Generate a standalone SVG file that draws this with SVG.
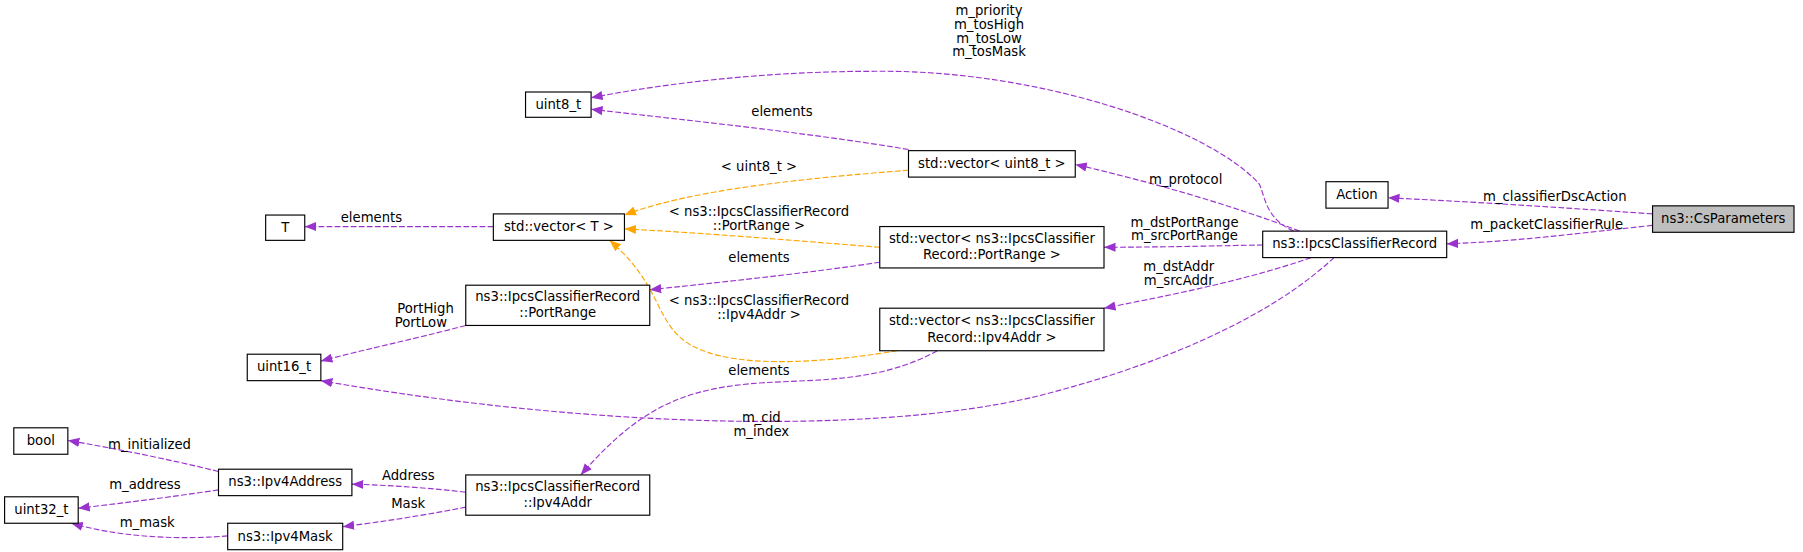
<svg xmlns="http://www.w3.org/2000/svg" width="1803" height="552" viewBox="0 0 1803 552">
<defs>
<style>
.n rect{fill:#fff;stroke:#000;stroke-width:1}
.g rect{fill:#bfbfbf}
text{font-family:"DejaVu Sans","Liberation Sans",sans-serif;font-size:11.5px;fill:#000;text-anchor:middle}
.e path{fill:none;stroke:#9a32cd;stroke-dasharray:5,2}
.e path.o{stroke:#ffa500}
</style>
<marker id="p" viewBox="0 0 10 10" refX="10" refY="5" markerWidth="10" markerHeight="10" markerUnits="userSpaceOnUse" orient="auto"><path d="M0,1L10,5L0,9z" fill="#9a32cd"/></marker>
<marker id="y" viewBox="0 0 10 10" refX="10" refY="5" markerWidth="10" markerHeight="10" markerUnits="userSpaceOnUse" orient="auto"><path d="M0,1L10,5L0,9z" fill="#ffa500"/></marker>
</defs>
<rect width="1803" height="552" fill="#fff"/>
<g transform="scale(1.15)">
<g class="e">
<path marker-end="url(#p)" d="M1437,186C1350,180 1290,176 1207,172"/>
<path marker-end="url(#p)" d="M1437,196C1370,203 1320,210 1258,212"/>
<path marker-end="url(#p)" d="M1125,201C1100,190 1100,170 1095,160C1050,110 900,60 760,62C650,62 560,76 514,85"/>
<path marker-end="url(#p)" d="M1130,201C1070,178 1000,158 935,143"/>
<path marker-end="url(#p)" d="M1098,213C1050,214 1000,215 960,215"/>
<path marker-end="url(#p)" d="M1140,224C1080,245 1010,258 960,268"/>
<path marker-end="url(#p)" d="M1160,224C1100,280 1000,320 900,345C750,380 500,370 279,331"/>
<path marker-end="url(#p)" d="M790,130C700,115 600,105 514,95"/>
<path class="o" marker-end="url(#y)" d="M790,148C700,155 600,165 543,187"/>
<path marker-end="url(#p)" d="M429,197L265,197"/>
<path class="o" marker-end="url(#y)" d="M765,215C700,210 620,203 543,199"/>
<path marker-end="url(#p)" d="M765,228C700,238 620,246 565,252"/>
<path class="o" marker-end="url(#y)" d="M780,305C740,312 680,318 640,312C560,300 590,260 530,209"/>
<path marker-end="url(#p)" d="M815,305C770,330 720,330 680,332C600,335 560,350 505,413"/>
<path marker-end="url(#p)" d="M405,283C360,295 320,303 279,314"/>
<path marker-end="url(#p)" d="M405,428C370,424 340,422 306,421"/>
<path marker-end="url(#p)" d="M405,441C370,448 330,454 298,458"/>
<path marker-end="url(#p)" d="M190,410C150,400 100,390 59,383"/>
<path marker-end="url(#p)" d="M190,426C150,432 110,437 68,442"/>
<path marker-end="url(#p)" d="M198,466C150,470 100,466 62,455"/>
</g>
<g>
<text x="1352" y="175">m_classifierDscAction</text>
<text x="1345" y="199">m_packetClassifierRule</text>
<text x="860" y="13">m_priority</text><text x="860" y="25">m_tosHigh</text><text x="860" y="37">m_tosLow</text><text x="860" y="49">m_tosMask</text>
<text x="1031" y="160">m_protocol</text>
<text x="1030" y="197">m_dstPortRange</text><text x="1030" y="209">m_srcPortRange</text>
<text x="1025" y="236">m_dstAddr</text><text x="1025" y="248">m_srcAddr</text>
<text x="662" y="367">m_cid</text><text x="662" y="379">m_index</text>
<text x="680" y="101">elements</text>
<text x="660" y="149">&lt; uint8_t &gt;</text>
<text x="323" y="193">elements</text>
<text x="660" y="188">&lt; ns3::IpcsClassifierRecord</text><text x="660" y="200">::PortRange &gt;</text>
<text x="660" y="228">elements</text>
<text x="660" y="265">&lt; ns3::IpcsClassifierRecord</text><text x="660" y="277">::Ipv4Addr &gt;</text>
<text x="660" y="326">elements</text>
<text x="370" y="272">PortHigh</text><text x="366" y="284">PortLow</text>
<text x="355" y="417">Address</text>
<text x="355" y="442">Mask</text>
<text x="130" y="390">m_initialized</text>
<text x="126" y="425">m_address</text>
<text x="128" y="458">m_mask</text>
</g>
<g id="uint8" class="n"><rect x="457" y="80" width="57" height="22"/><text x="485.5" y="95">uint8_t</text></g>
<g id="T" class="n"><rect x="231" y="187" width="34" height="22"/><text x="248" y="202">T</text></g>
<g id="vecT" class="n"><rect x="429" y="186" width="114" height="23"/><text x="486" y="201">std::vector&lt; T &gt;</text></g>
<g id="portrange" class="n"><rect x="405" y="248" width="160" height="35"/><text x="485" y="262">ns3::IpcsClassifierRecord</text><text x="485" y="276">::PortRange</text></g>
<g id="uint16" class="n"><rect x="215" y="308" width="64" height="23"/><text x="247" y="323">uint16_t</text></g>
<g id="bool" class="n"><rect x="12" y="372" width="47" height="23"/><text x="35.5" y="387">bool</text></g>
<g id="uint32" class="n"><rect x="4" y="432" width="64" height="23"/><text x="36" y="447">uint32_t</text></g>
<g id="ipv4address" class="n"><rect x="190" y="408" width="116" height="23"/><text x="248" y="423">ns3::Ipv4Address</text></g>
<g id="ipv4mask" class="n"><rect x="198" y="455" width="100" height="23"/><text x="248" y="470">ns3::Ipv4Mask</text></g>
<g id="ipv4addr" class="n"><rect x="405" y="413" width="160" height="35"/><text x="485" y="427">ns3::IpcsClassifierRecord</text><text x="485" y="441">::Ipv4Addr</text></g>
<g id="vecuint8" class="n"><rect x="790" y="131" width="145" height="23"/><text x="862.5" y="146">std::vector&lt; uint8_t &gt;</text></g>
<g id="vecportrange" class="n"><rect x="765" y="197" width="195" height="36"/><text x="862.5" y="211">std::vector&lt; ns3::IpcsClassifier</text><text x="862.5" y="225">Record::PortRange &gt;</text></g>
<g id="vecipv4addr" class="n"><rect x="765" y="268" width="195" height="37"/><text x="862.5" y="283">std::vector&lt; ns3::IpcsClassifier</text><text x="862.5" y="297">Record::Ipv4Addr &gt;</text></g>
<g id="record" class="n"><rect x="1098" y="201" width="160" height="23"/><text x="1178" y="216">ns3::IpcsClassifierRecord</text></g>
<g id="action" class="n"><rect x="1153" y="158" width="54" height="23"/><text x="1180" y="173">Action</text></g>
<g id="csparams" class="n g"><rect x="1437" y="179" width="123" height="23"/><text x="1498.5" y="194">ns3::CsParameters</text></g>
</g>
</svg>
